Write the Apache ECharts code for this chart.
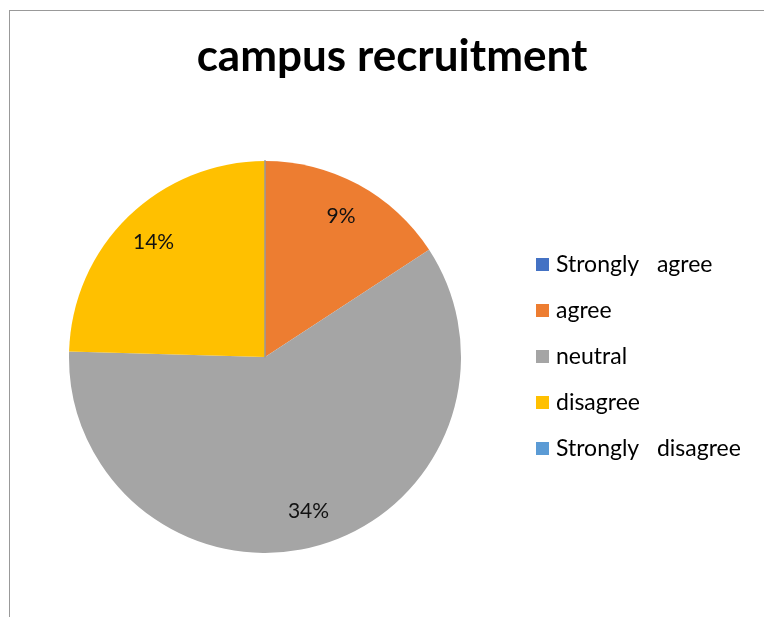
<!DOCTYPE html>
<html>
<head>
<meta charset="utf-8">
<script src="https://cdn.jsdelivr.net/npm/echarts@6/dist/echarts.min.js"></script>
<style>
  html, body { margin: 0; padding: 0; background: #fff; }
  #frame { position: absolute; left: 9px; top: 10px; width: 800px; height: 700px;
           border-top: 1px solid #999; border-left: 1px solid #999; }
  #chart { position: absolute; left: 0; top: 0; width: 764px; height: 617px; }
</style>
</head>
<body>
<div id="frame"></div>
<div id="chart"></div>
<script>
// Survey responses for campus recruitment
const categories = ['Strongly   agree', 'agree', 'neutral', 'disagree', 'Strongly   disagree'];
const responses = [0, 9, 34, 14, 0];
const sliceColors = ['#4472C4', '#ED7D31', '#A5A5A5', '#FFC000', '#5B9BD5'];

const FONT = 'Lato, "Open Sans", sans-serif';
const CENTER = [265, 357];
const RADIUS = 196;

const pieData = categories.map((name, i) => ({
  name: name,
  value: responses[i],
  itemStyle: responses[i] === 0
    ? { color: sliceColors[i], borderColor: '#999999', borderWidth: 1.5 }
    : { color: sliceColors[i], borderWidth: 0 }
}));

const chart = echarts.init(document.getElementById('chart'), null, { renderer: 'canvas' });
chart.setOption({
  animation: false,
  color: sliceColors,
  title: {
    text: 'campus recruitment',
    left: 392, top: 35, textAlign: 'center', padding: 0,
    textStyle: { fontFamily: FONT, fontWeight: 'bold', fontSize: 44, color: '#000' }
  },
  legend: {
    orient: 'vertical',
    left: 536, top: 253, padding: 0,
    itemWidth: 13, itemHeight: 13, itemGap: 23,
    icon: 'rect',
    itemStyle: { borderWidth: 0 },
    data: categories,
    textStyle: { fontFamily: FONT, fontSize: 23, color: '#000', padding: [0, 0, 0, 2] }
  },
  series: [
    {
      type: 'pie',
      center: CENTER,
      radius: RADIUS,
      startAngle: 90,
      clockwise: true,
      silent: true,
      label: { show: false },
      labelLine: { show: false },
      data: pieData
    },
    {
      // transparent ring carrying the value labels
      type: 'pie',
      center: CENTER,
      radius: [RADIUS * 0.6, RADIUS],
      startAngle: 90,
      clockwise: true,
      silent: true,
      itemStyle: { color: 'rgba(0,0,0,0)', borderWidth: 0 },
      label: {
        show: true,
        position: 'inside',
        fontFamily: FONT, fontSize: 21, color: '#111',
        formatter: p => (p.value ? p.value + '%' : '')
      },
      labelLine: { show: false },
      data: categories.map((name, i) => ({ name: name, value: responses[i] }))
    }
  ]
});
</script>
</body>
</html>
